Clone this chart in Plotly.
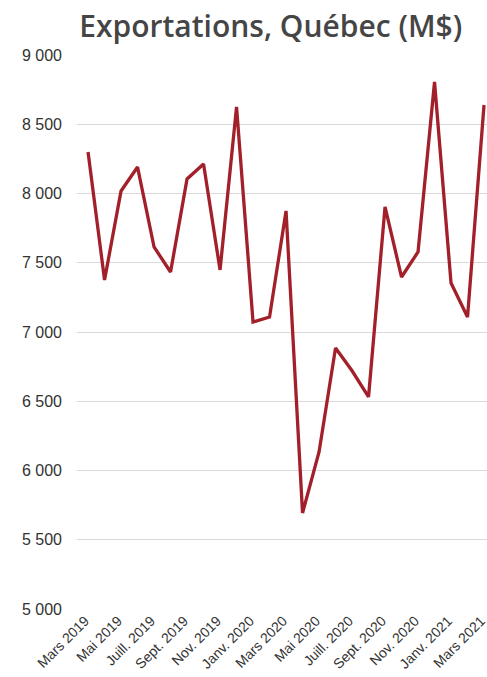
import plotly.graph_objects as go

months = ["Mars 2019", "Avr. 2019", "Mai 2019", "Juin 2019", "Juill. 2019", "Août 2019",
          "Sept. 2019", "Oct. 2019", "Nov. 2019", "Déc. 2019", "Janv. 2020", "Févr. 2020",
          "Mars 2020", "Avr. 2020", "Mai 2020", "Juin 2020", "Juill. 2020", "Août 2020",
          "Sept. 2020", "Oct. 2020", "Nov. 2020", "Déc. 2020", "Janv. 2021", "Févr. 2021",
          "Mars 2021"]
exports = [8300, 7375, 8018, 8191, 7614, 7433, 8105, 8213, 7448, 8625,
           7072, 7108, 7874, 5693, 6134, 6884, 6720, 6531, 7903, 7397,
           7578, 8805, 7354, 7108, 8639]
y_ticks = [5000, 5500, 6000, 6500, 7000, 7500, 8000, 8500, 9000]

x_idx = list(range(len(months)))
tick_idx = x_idx[::2]
tick_lbl = months[::2]

fig = go.Figure()
fig.add_trace(go.Scatter(x=x_idx, y=exports, mode="lines",
                         line=dict(color="#A2202A", width=3.3),
                         hoverinfo="skip", cliponaxis=False))

fig.update_layout(
    width=487, height=677,
    margin=dict(l=77, r=0, t=55, b=68, autoexpand=False),
    paper_bgcolor="white", plot_bgcolor="white",
    separators=", ",
    showlegend=False,
    title=dict(text="Exportations, Québec (M$)", x=0.556, xanchor="center",
               yref="container", y=0.977, yanchor="top", pad=dict(t=0, b=0),
               font=dict(family="Open Sans", weight=600, size=30, color="#454545")),
    xaxis=dict(range=[-0.67, 24.18], tickmode="array", tickvals=tick_idx,
               ticktext=tick_lbl, tickangle=-45, showgrid=False, zeroline=False,
               showline=False, ticks="", automargin=False, ticklabeloverflow="allow",
               ticklabelshift=-3,
               tickfont=dict(family="Liberation Sans, Arial", size=14, color="#333")),
    yaxis=dict(range=[5000, 9000], tickmode="array", tickvals=y_ticks,
               tickformat=",d", showgrid=True, gridcolor="#DADADA", gridwidth=1,
               zeroline=False, showline=False, ticks="", ticklabelstandoff=14,
               automargin=False,
               tickfont=dict(family="Liberation Sans, Arial", size=16, color="#333")),
)

fig.write_html("out.html", config={"displayModeBar": False},
               post_script="document.body.style.margin='0';"
                           "document.body.style.overflow='hidden';")
